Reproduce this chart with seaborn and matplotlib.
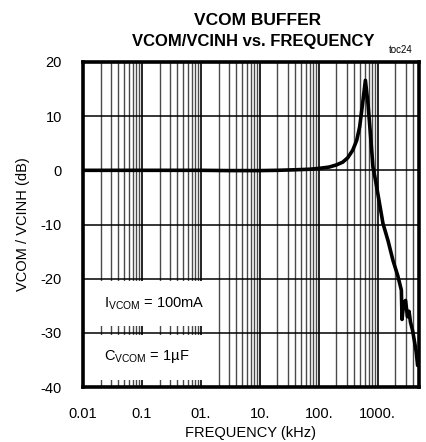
import numpy as np
import pandas as pd
import seaborn as sns
import matplotlib.pyplot as plt
from matplotlib.ticker import LogLocator, NullFormatter

# values
freq_khz = [0.01, 0.03, 0.1, 0.3, 1, 3, 10, 20, 40, 70, 100, 150, 200, 255,
            310, 377, 440, 495, 564, 619, 685, 752, 832, 925, 1230, 1500,
            1816, 2200, 2522, 2590, 2750, 2970, 3200, 3400, 3600, 3900,
            4200, 4500, 4760, 5000]
gain_db = [0, 0, 0, 0, 0, -0.05, -0.05, 0, 0.1, 0.2, 0.35, 0.6, 1.0, 1.5,
           2.3, 3.7, 5.5, 8.0, 12.9, 16.6, 12.3, 6.8, 0.6, -2.0, -9.8, -13.0,
           -16.6, -19.5, -22.1, -27.5, -24.5, -24.0, -27.0, -26.0, -28.0, -29.5,
           -31.5, -33.5, -36.0, -35.0]

y_ticks = [20, 10, 0, -10, -20, -30, -40]
x_ticks = [0.01, 0.1, 1, 10, 100, 1000]
x_tick_labels = ["0.01", "0.1", "01.", "10.", "100.", "1000."]

df = pd.DataFrame({"freq": freq_khz, "gain": gain_db})

sns.set_style("white")
plt.rcParams['font.family'] = ['Liberation Sans', 'DejaVu Sans']
plt.rcParams['axes.unicode_minus'] = False
plt.rcParams['text.color'] = 'black'
plt.rcParams['axes.labelcolor'] = 'black'
plt.rcParams['xtick.color'] = 'black'
plt.rcParams['ytick.color'] = 'black'

fig = plt.figure(figsize=(4.27, 4.42), dpi=100)
ax = fig.add_axes([0.194, 0.124, 0.787, 0.736])

sns.lineplot(data=df, x="freq", y="gain", color="black", linewidth=2.6,
             ax=ax, zorder=3)

ax.set_xscale("log")
ax.set_xlim(0.01, 5000)
ax.set_ylim(-40, 20)

# vertical log grid
ax.set_axisbelow(True)
ax.xaxis.set_major_locator(LogLocator(base=10))
ax.xaxis.set_minor_locator(LogLocator(base=10, subs=np.arange(2, 10)))
ax.xaxis.set_minor_formatter(NullFormatter())
ax.grid(axis="x", which="major", color="black", linewidth=1.2)
ax.grid(axis="x", which="minor", color="#4a4a4a", linewidth=1.0)
for yv in y_ticks:
    ax.axhline(yv, color="black", linewidth=1.1, zorder=1.5)

# white boxes behind the condition notes
ax.fill_between([0.016, 1.2], -28.8, -20.4, color="white", zorder=1, linewidth=0)
ax.fill_between([0.016, 1.2], -38.6, -30.4, color="white", zorder=1, linewidth=0)
ax.text(0.0225, -24.6, r"I$_{\mathregular{VCOM}}$ = 100mA", fontsize=10.5,
        va="center", ha="left", zorder=4)
ax.text(0.0225, -34.4, r"C$_{\mathregular{VCOM}}$ = 1µF", fontsize=10.5,
        va="center", ha="left", zorder=4)

ax.set_xticks(x_ticks)
ax.set_xticklabels(x_tick_labels)
ax.set_yticks(y_ticks)
ax.tick_params(axis="both", which="both", length=0, labelsize=10.5)
ax.tick_params(axis="y", pad=15)
ax.tick_params(axis="x", pad=14)

for s in ax.spines.values():
    s.set_color("black")
    s.set_linewidth(2.6)
    s.set_zorder(5)

ax.set_xlabel("FREQUENCY (kHz)", fontsize=10.5, labelpad=4)
ax.set_ylabel("VCOM / VCINH (dB)", fontsize=10.5, labelpad=8)

fig.text(0.604, 0.954, "VCOM BUFFER", ha="center", va="center",
         fontsize=12.5, fontweight="bold")
fig.text(0.593, 0.905, "VCOM/VCINH vs. FREQUENCY", ha="center", va="center",
         fontsize=12, fontweight="bold")
fig.text(0.938, 0.887, "toc24", ha="center", va="center", fontsize=7)

fig.savefig("out.png", dpi=100)
